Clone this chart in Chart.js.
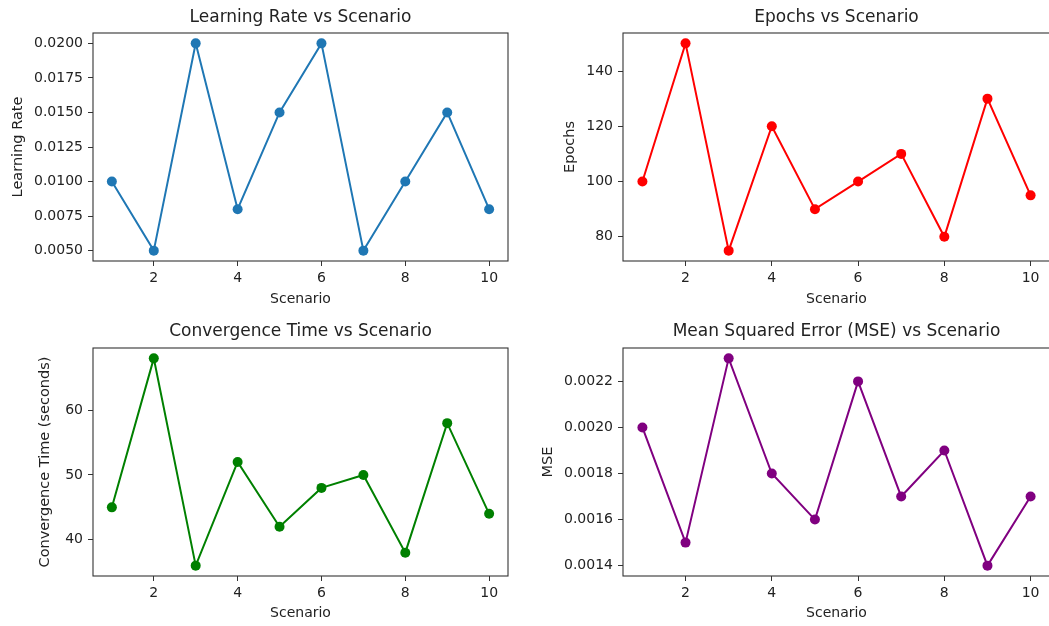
<!DOCTYPE html>
<html>
<head>
<meta charset="utf-8">
<script src="https://cdn.jsdelivr.net/npm/chart.js@4/dist/chart.umd.min.js"></script>
<style>
    html, body { margin: 0; padding: 0; background: #fff; overflow: hidden; }
    body { width: 1049px; height: 626px; position: relative; }
    .panel { position: absolute; }
</style>
</head>
<body>
<div class="panel" style="left:0;top:0;width:520px;height:310px"><canvas id="lrChart"></canvas></div>
<div class="panel" style="left:520px;top:0;width:536px;height:310px"><canvas id="epochChart"></canvas></div>
<div class="panel" style="left:0;top:310px;width:520px;height:316px"><canvas id="timeChart"></canvas></div>
<div class="panel" style="left:520px;top:310px;width:536px;height:316px"><canvas id="mseChart"></canvas></div>
<script>
// ===== DATA =====
const scenarios = [1, 2, 3, 4, 5, 6, 7, 8, 9, 10];
const learningRate = [0.010, 0.005, 0.020, 0.008, 0.015, 0.020, 0.005, 0.010, 0.015, 0.008];
const epochs = [100, 150, 75, 120, 90, 100, 110, 80, 130, 95];
const convergenceTime = [45, 68, 36, 52, 42, 48, 50, 38, 58, 44];
const mse = [0.0020, 0.0015, 0.0023, 0.0018, 0.0016, 0.0022, 0.0017, 0.0019, 0.0014, 0.0017];

const xTicks = [2, 4, 6, 8, 10];
const lrTicks = [0.005, 0.0075, 0.01, 0.0125, 0.015, 0.0175, 0.02];
const epochTicks = [80, 100, 120, 140];
const timeTicks = [40, 50, 60];
const mseTicks = [0.0014, 0.0016, 0.0018, 0.002, 0.0022];

const FONT = "'DejaVu Sans', 'Liberation Sans', sans-serif";
const INK = "#222";

// matplotlib-like 5% margins around the data
function padRange(values) {
    const lo = Math.min(...values);
    const hi = Math.max(...values);
    const m = (hi - lo) * 0.05;
    return { min: lo - m, max: hi + m };
}

// spines on all four sides + axes title centred over the plot area
const framePlugin = {
    id: "frame",
    afterDatasetsDraw(chart, args, opts) {
        const { ctx, chartArea: a } = chart;
        ctx.save();
        ctx.strokeStyle = "#333";
        ctx.lineWidth = 1.1;
        ctx.strokeRect(a.left, a.top, a.right - a.left, a.bottom - a.top);

        ctx.fillStyle = INK;
        ctx.font = "17px " + FONT;
        ctx.textAlign = "center";
        ctx.textBaseline = "middle";
        ctx.fillText(opts.text, (a.left + a.right) / 2, opts.y);
        ctx.restore();
    },
};

function makeChart(id, cfg) {
    const yRange = padRange(cfg.values);
    const xRange = padRange(scenarios);
    const tickStyle = { font: { family: FONT, size: 14 }, color: INK };

    new Chart(document.getElementById(id), {
        type: "line",
        data: {
            datasets: [
                {
                    data: scenarios.map((x, i) => ({ x: x, y: cfg.values[i] })),
                    borderColor: cfg.color,
                    backgroundColor: cfg.color,
                    borderWidth: 2,
                    pointRadius: 5,
                    pointBorderWidth: 0,
                    pointBackgroundColor: cfg.color,
                    tension: 0,
                },
            ],
        },
        options: {
            responsive: true,
            maintainAspectRatio: false,
            animation: false,
            layout: { padding: { left: 0, right: cfg.padRight, top: cfg.padTop, bottom: 0 } },
            plugins: {
                legend: { display: false },
                tooltip: { enabled: false },
                title: { display: false },
                frame: { text: cfg.title, y: cfg.titleY },
            },
            scales: {
                x: {
                    type: "linear",
                    min: xRange.min,
                    max: xRange.max,
                    afterBuildTicks: (s) => { s.ticks = xTicks.map((v) => ({ value: v })); },
                    afterFit: (s) => { s.height = cfg.xAxisHeight; },
                    grid: { drawOnChartArea: false, drawTicks: true, tickLength: 5, color: "#333" },
                    border: { display: false },
                    ticks: { ...tickStyle, padding: 4, maxRotation: 0, autoSkip: false },
                    title: {
                        display: true,
                        text: "Scenario",
                        color: INK,
                        font: { family: FONT, size: 14, lineHeight: 1.2 },
                        padding: { top: 0, bottom: cfg.xTitleBottom },
                    },
                },
                y: {
                    min: yRange.min,
                    max: yRange.max,
                    afterBuildTicks: (s) => { s.ticks = cfg.ticks.map((v) => ({ value: v })); },
                    afterFit: (s) => { s.width = cfg.yAxisWidth; },
                    grid: { drawOnChartArea: false, drawTicks: true, tickLength: 5, color: "#333" },
                    border: { display: false },
                    ticks: { ...tickStyle, padding: 5, autoSkip: false, callback: cfg.fmt },
                    title: {
                        display: true,
                        text: cfg.yLabel,
                        color: INK,
                        font: { family: FONT, size: 14.5, lineHeight: 1.2 },
                        padding: { top: cfg.yTitleOffset, bottom: 0 },
                    },
                },
            },
        },
        plugins: [framePlugin],
    });
}

const fixed4 = (v) => v.toFixed(4);
const plain = (v) => String(v);

makeChart("lrChart", {
    title: "Learning Rate vs Scenario",
    yLabel: "Learning Rate",
    values: learningRate,
    ticks: lrTicks,
    fmt: fixed4,
    color: "#1f77b4",
    padRight: 12,
    padTop: 33,
    titleY: 18,
    xAxisHeight: 49,
    xTitleBottom: 2.6,
    yAxisWidth: 93,
    yTitleOffset: 9.6,
});

makeChart("epochChart", {
    title: "Epochs vs Scenario",
    yLabel: "Epochs",
    values: epochs,
    ticks: epochTicks,
    fmt: plain,
    color: "#ff0000",
    padRight: 6,
    padTop: 33,
    titleY: 18,
    xAxisHeight: 49,
    xTitleBottom: 2.6,
    yAxisWidth: 103,
    yTitleOffset: 41.6,
});

makeChart("timeChart", {
    title: "Convergence Time vs Scenario",
    yLabel: "Convergence Time (seconds)",
    values: convergenceTime,
    ticks: timeTicks,
    fmt: plain,
    color: "#008000",
    padRight: 12,
    padTop: 38,
    titleY: 21.5,
    xAxisHeight: 50,
    xTitleBottom: 4.3,
    yAxisWidth: 93,
    yTitleOffset: 36.6,
});

makeChart("mseChart", {
    title: "Mean Squared Error (MSE) vs Scenario",
    yLabel: "MSE",
    values: mse,
    ticks: mseTicks,
    fmt: fixed4,
    color: "#800080",
    padRight: 6,
    padTop: 38,
    titleY: 21.5,
    xAxisHeight: 50,
    xTitleBottom: 4.3,
    yAxisWidth: 103,
    yTitleOffset: 19.6,
});
</script>
</body>
</html>
